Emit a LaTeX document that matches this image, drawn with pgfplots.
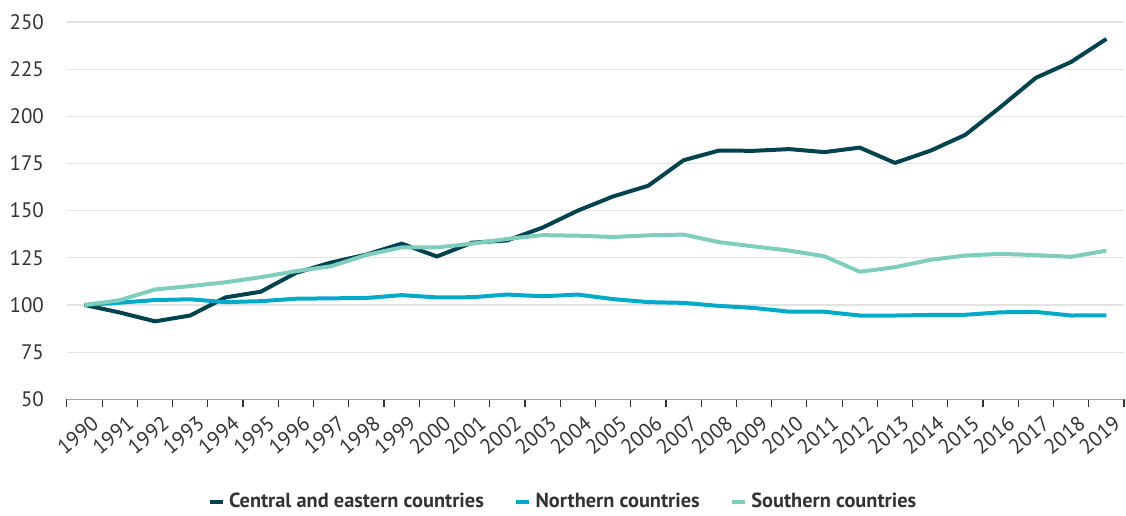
\documentclass[border=0pt]{standalone}
\usepackage{pgfplots}
\pgfplotsset{compat=1.18}
\usepackage{fontspec}
\setmainfont{PT Sans}
\definecolor{cdark}{HTML}{00434F}
\definecolor{cblue}{HTML}{00AAC8}
\definecolor{clight}{HTML}{7FCDBD}
\definecolor{txt}{HTML}{333333}
\definecolor{gridc}{HTML}{E3E3E3}
\begin{document}
\begin{tikzpicture}
\begin{axis}[
  /pgf/number format/assume math mode=true,
  scale only axis,
  width=529.5pt, height=189pt,
  xmin=-0.5, xmax=29.5,
  ymin=50, ymax=250,
  ytick={50,75,...,250},
  ymajorgrids, grid style={gridc, line width=0.6pt},
  axis x line*=bottom, axis y line*=left,
  y axis line style={draw=none},
  x axis line style={draw=gray!70, line width=0.6pt},
  major y tick style={draw=none},
  xtick={0,...,29},
  xticklabels={1990,1991,1992,1993,1994,1995,1996,1997,1998,1999,2000,2001,2002,2003,2004,2005,2006,2007,2008,2009,2010,2011,2012,2013,2014,2015,2016,2017,2018,2019},
  major x tick style={draw=none},
  minor xtick={-0.5,0.5,...,29.5},
  minor x tick style={draw=txt, line width=0.6pt},
  minor tick length=4pt,
  xtick align=outside,
  xticklabel style={rotate=40, anchor=north east, xshift=3.5pt, yshift=-1pt, font=\fontsize{10.5}{11}\selectfont, text=txt},
  yticklabel style={font=\fontsize{10.5}{11}\selectfont, text=txt, xshift=-8pt},
  legend style={at={(0.47,-0.272)}, anchor=center, draw=none, legend columns=3,
    font=\bfseries\fontsize{10.2}{11}\selectfont, text=txt,
    /tikz/every even column/.append style={column sep=13pt}},
  legend image code/.code={\draw[#1, line width=2.4pt] (0pt,0pt) -- (6.5pt,0pt);},
  every axis plot/.append style={line width=2pt, line join=round, mark=none},
]
\addplot[cdark] coordinates {(0,100)(1,96)(2,91.3)(3,94.4)(4,104)(5,107)(6,117)(7,122.5)(8,126.7)(9,132.5)(10,125.7)(11,133)(12,134.2)(13,141)(14,150)(15,157.5)(16,163.2)(17,176.7)(18,181.8)(19,181.7)(20,182.6)(21,181)(22,183.4)(23,175.3)(24,181.7)(25,190.2)(26,205)(27,220.4)(28,228.8)(29,241)};
\addlegendentry{Central and eastern countries}
\addplot[cblue] coordinates {(0,100)(1,101.2)(2,102.6)(3,103)(4,101.5)(5,102)(6,103.3)(7,103.5)(8,103.7)(9,105.2)(10,104)(11,104.1)(12,105.5)(13,104.6)(14,105.5)(15,103.1)(16,101.5)(17,101.1)(18,99.5)(19,98.4)(20,96.4)(21,96.4)(22,94.4)(23,94.4)(24,94.7)(25,94.8)(26,96.1)(27,96.3)(28,94.4)(29,94.5)};
\addlegendentry{Northern countries}
\addplot[clight] coordinates {(0,100)(1,102.5)(2,108.2)(3,110)(4,112)(5,114.7)(6,117.9)(7,120.5)(8,126.5)(9,130.5)(10,130.5)(11,132.5)(12,135)(13,137)(14,136.7)(15,136)(16,136.9)(17,137.3)(18,133.3)(19,131)(20,128.8)(21,125.8)(22,117.6)(23,120)(24,123.9)(25,126.2)(26,127.1)(27,126.4)(28,125.5)(29,128.8)};
\addlegendentry{Southern countries}
\end{axis}
\pgfresetboundingbox
\path ([xshift=-33.5pt,yshift=-58pt]current axis.south west) rectangle ([xshift=1pt,yshift=11pt]current axis.north east);
\end{tikzpicture}
\end{document}
